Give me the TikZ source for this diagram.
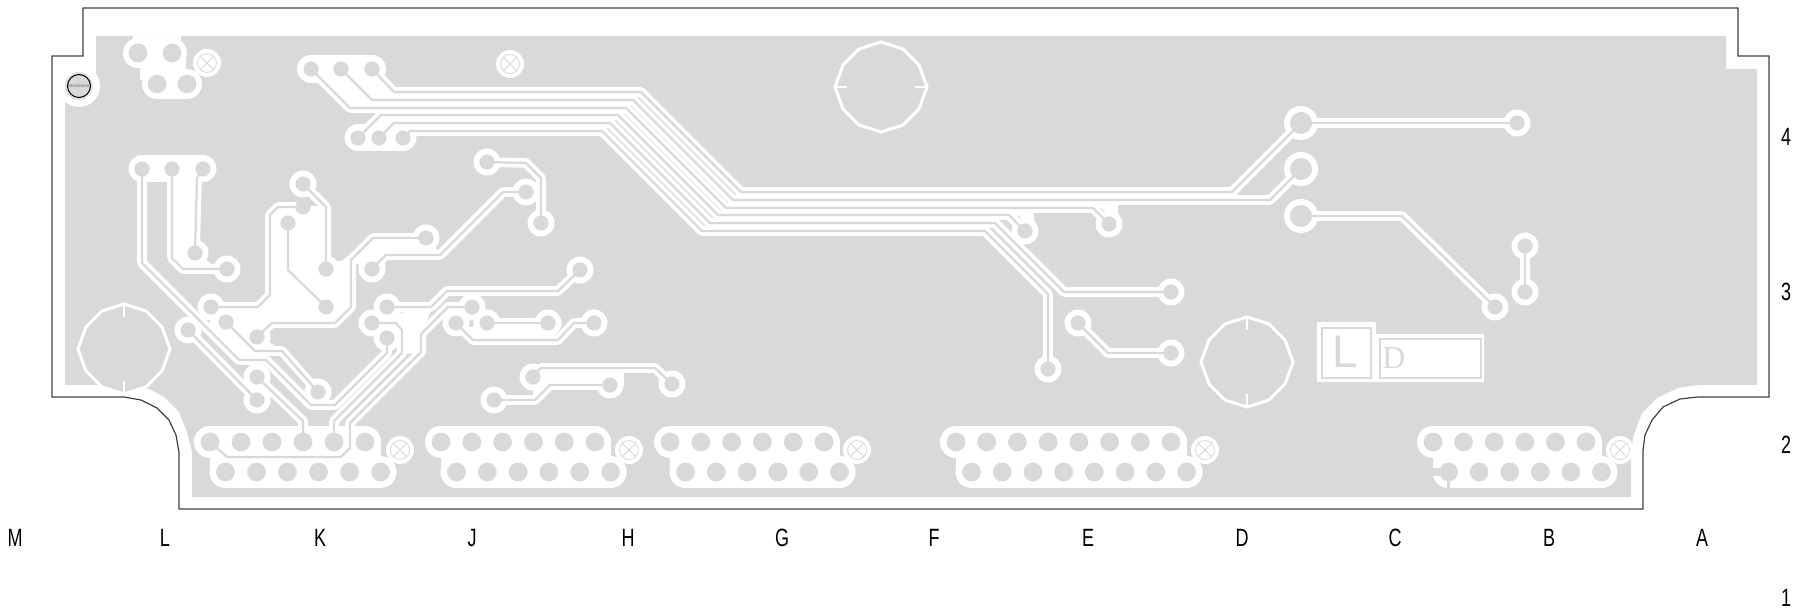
\documentclass[tikz,border=0pt]{standalone}
\usepackage{fontspec}
\setmainfont{Liberation Sans}
\newfontfamily\slabfont{Liberation Serif}
\definecolor{pour}{HTML}{D9D9D9}
\definecolor{edgeline}{HTML}{404040}
\tikzset{
    ring/.style = {circle, fill=white, inner sep=0pt, minimum size=13.5pt},
    bigring/.style = {circle, fill=white, inner sep=0pt, minimum size=17pt},
    hole/.style = {circle, fill=pour, inner sep=0pt, minimum size=7.6pt},
    bighole/.style = {circle, fill=pour, inner sep=0pt, minimum size=11pt},
    pinhole/.style = {circle, fill=pour, inner sep=0pt, minimum size=9.4pt},
    screwpad/.style = {circle, fill=white, inner sep=0pt, minimum size=14pt},
    screwmark/.style = {draw=pour, line width=.4pt},
    patch/.style = {fill=white, draw=white, line width=1pt, line join=round},
    blob/.style = {draw=white, line join=round, line cap=round},
    octo/.style = {draw=white, fill=pour, line width=1.5pt, line join=miter},
    tick/.style = {draw=white, line width=.6pt},
    lab/.style = {font=\fontsize{12.5}{14}\selectfont, xscale=.72, transform shape, inner sep=0pt, text=black},
}
% all copper runs, drawn twice: clearance first, then the run itself
\newcommand{\tracklist}{
    \draw[trk] (ta3) -- (394,92) -- (641,92) -- (741,192) -- (1232,192) -- (fa);
    \draw[trk] (ta2) -- (372,100) -- (633,100) -- (733,200) -- (1270,200) -- (fb);
    \draw[trk] (ta1) -- (350,108) -- (626,108) -- (726,208) -- (1093,208) -- (fh);
    \draw[trk] (tb1) -- (381,115) -- (618,115) -- (718,215) -- (1009,215) -- (fi);
    \draw[trk] (tb2) -- (394,123) -- (610,123) -- (710,223) -- (995,223) -- (1064,292) -- (fj);
    \draw[trk] (tb3) -- (410,131) -- (602,131) -- (702,231) -- (985,231) -- (1048,294) -- (fk);
    \draw[trk] (la1) -- (142,263) -- (239,360) -- (266,360) -- (311,405) -- (335,405) -- (387,353) -- (ec);
    \draw[trk] (la2) -- (172,258) -- (183,269) -- (lc);
    \draw[trk] (la3) -- (197,178) -- (lb);
    \draw[trk] (ca) -- (326,207) -- (cd);
    \draw[trk] (cb) -- (278,207) -- (270,215) -- (270,295) -- (258,307) -- (rf);
    \draw[trk] (cc) -- (288,270) -- (ce);
    \draw[trk] (rg) -- (255,351) -- (282,351) -- (rl);
    \draw[trk] (rh) -- (rk);
    \draw[trk] (rj) -- (303,421) -- (kt4);
    \draw[trk] (ri) -- (272,323) -- (335,323) -- (351,307) -- (351,260) -- (373,238) -- (dd);
    \draw[trk] (de) -- (386,255) -- (440,255) -- (503,192) -- (db);
    \draw[trk] (da) -- (526,163) -- (541,178) -- (dc);
    \draw[trk] (df) -- (558,291) -- (447,291) -- (431,307) -- (ea);
    \draw[trk] (ed) -- (448,307) -- (421,334) -- (421,352) -- (350,423) -- (350,448) -- (341,457) -- (227,457) -- (kt1);
    \draw[trk] (eb) -- (396,323) -- (402,330) -- (402,353) -- (334,421) -- (kt5);
    \draw[trk] (ee) -- (463,330) -- (473,340) -- (558,340) -- (574,323) -- (eh);
    \draw[trk] (ef) -- (eg);
    \draw[trk] (ei) -- (541,368) -- (655,368) -- (el);
    \draw[trk] (ej) -- (535,400) -- (550,385) -- (ek);
    \draw[trk] (fa) -- (fd);
    \draw[trk] (fc) -- (1402,216) -- (fg);
    \draw[trk] (fe) -- (ff);
    \draw[trk] (fl) -- (1108,353) -- (fm);
}
\begin{document}
\begin{tikzpicture}[x=.5pt, y=-.5pt]
    \useasboundingbox (0,0) rectangle (1803,614);

    % pad positions
    \foreach \n/\px/\py in {ta1/311/69, ta2/341/69, ta3/372/69, tb1/358/138, tb2/379/138, tb3/403/138,
        la1/142/169, la2/172/169, la3/203/169, lb/195/253, lc/227/269,
        ca/303/184, cb/303/207, cc/288/223, cd/326/269, ce/326/307,
        rf/211/307, rg/226/322, rh/188/330, ri/257/337, rj/257/377, rk/257/400, rl/318/392,
        da/487/162, db/526/192, dc/541/223, dd/426/238, de/372/269, df/580/270,
        ea/387/307, eb/372/323, ec/387/338, ed/472/307, ee/456/323, ef/487/323, eg/548/323, eh/594/323,
        ei/533/377, ej/494/400, ek/610/385, el/672/384,
        fa/1301/123, fb/1301/169, fc/1301/216, fd/1517/123, fe/1525/246, ff/1525/292, fg/1495/307,
        fh/1109/224, fi/1025/231, fj/1171/292, fk/1048/369, fl/1078/323, fm/1171/353}
        \coordinate (\n) at (\px,\py);
    \foreach \c/\xa/\xb/\pins in {k/210/365/6, j/441/595/6, g/670/824/6, e/956/1171/8, b/1433/1586/6}
        \foreach \i in {1,...,\pins} {
            \coordinate (\c t\i) at ({\xa+(\i-1)*(\xb-\xa)/(\pins-1)},442);
            \coordinate (\c b\i) at ({\xa+15.5+(\i-1)*(\xb-\xa)/(\pins-1)},472);
        }

    % copper pour and board edge
    \fill[pour] (96,36) -- (1726,36) -- (1726,69) -- (1757,69) -- (1757,385) -- (1698,385) -- (1678,388)
        -- (1657,398) -- (1642,413) -- (1633,437) -- (1631,463) -- (1631,497) -- (192,497) -- (192,452)
        -- (187,432) -- (179,412) -- (164,397) -- (149,389) -- (130,385) -- (65,385)
        -- (65,74) -- (96,74) -- cycle;
    \draw[edgeline, line width=.6pt, line join=miter] (83,8) -- (1738,8) -- (1738,56) -- (1769,56) -- (1769,397)
        -- (1698,397) -- (1680,399) -- (1663,407) -- (1652,420) -- (1645,435) -- (1643,450) -- (1643,509)
        -- (179,509) -- (179,452) -- (176,435) -- (169,420) -- (157,408) -- (141,400) -- (124,397)
        -- (52,397) -- (52,56) -- (83,56) -- cycle;

    % clearance round connectors and runs
    \begin{scope}[trk/.style={draw=white, line width=4.8pt, line join=round}]
        \tracklist
    \end{scope}
    \fill[white] (133,36) rectangle (181,60);
    \draw[blob, line width=15pt] (138,53) -- (172,53);
    \draw[blob, line width=15pt] (157,84) -- (187,84);
    \fill[white] (140,60) rectangle (186,80);
    \draw[blob, line width=14pt] (ta1) -- (ta3);
    \draw[blob, line width=13.5pt] (tb1) -- (tb3);
    \draw[blob, line width=13.5pt] (la1) -- (la3);
    \foreach \xa/\xb in {210/365, 441/595, 670/824, 956/1171, 1433/1586} {
        \draw[blob, line width=16pt] (\xa,442) -- (\xb,442);
        \draw[blob, line width=16pt] ({\xa+15.5},472) -- ({\xb+15.5},472);
        \fill[white] (\xa,442) rectangle ({\xb+15.5},472);
    }
    \node[circle, fill=white, inner sep=0pt, minimum size=21pt] (beadclear) at (79,86) {};
    \fill[white] (52.5,60) rectangle (65,104);
    \draw[patch] (ta1) -- (ta2) -- (372,100) -- (350,108) -- cycle;
    \draw[patch] (ta2) -- (ta3) -- (394,92) -- (372,100) -- cycle;
    \draw[patch] (tb1) -- (381,115) -- (394,123) -- (tb2) -- cycle;
    \draw[patch] (tb2) -- (394,123) -- (410,131) -- (tb3) -- cycle;
    \draw[patch] (la2) -- (197,178) -- (197,253) -- (215,269) -- (183,269) -- (172,258) -- cycle;
    \draw[patch] (272,213) -- (278,207) -- (326,207) -- (326,262) -- (342,262) -- (351,255) -- (351,307)
        -- (335,323) -- (272,323) -- (258,307) -- (270,295) -- cycle;
    \draw[patch] (211,320) -- (211,332) -- (241,362) -- (255,351) -- (282,351) -- (258,337) -- (272,323) -- (258,307) -- cycle;
    \draw[patch] (373,238) -- (dd) -- (440,255) -- (386,255) -- (de) -- (351,260) -- cycle;
    \draw[patch] (395,315) -- (431,307) -- (421,334) -- (421,352) -- (402,353) -- (402,330) -- cycle;
    \draw[patch] (ef) -- (eg) -- (558,340) -- (473,340) -- (463,330) -- cycle;
    \draw[patch] (541,368) -- (623,368) -- (623,385) -- (550,385) -- (535,400) -- (533,385) -- cycle;
    \draw[patch] (1097,205) -- (1117,205) -- (1117,216) -- cycle;
    \draw[patch] (1012,212) -- (1033,212) -- (1033,222) -- cycle;
    \foreach \n in {lb, lc, ca, cc, cd, ce, rf, rg, rh, ri, rj, rk, rl, da, db, dc, dd, de, df,
        ea, eb, ec, ed, ee, ef, eg, eh, ei, ej, ek, el, fd, fe, ff, fg, fh, fi, fj, fk, fl, fm}
        \node[ring] (w\n) at (\n) {};
    \foreach \n in {fa, fb, fc}
        \node[bigring] (w\n) at (\n) {};

    % mounting screws
    \foreach \n/\px/\py in {sa/207/63, sb/510/64, sc/400/450, sd/629/450, se/857/450, sf/1205/450, sg/1620/450} {
        \node[screwpad] (\n) at (\px,\py) {};
        \draw[screwmark] (\n) ++(-7,-7) -- ++(14,14) (\n) ++(7,-7) -- ++(-14,14);
        \draw[screwmark] (\n) circle[radius=9.5];
    }

    % the runs and the drilled holes
    \begin{scope}[trk/.style={draw=pour, line width=1.15pt, line join=miter}]
        \tracklist
    \end{scope}
    \foreach \n in {lb, lc, ca, cb, cc, cd, ce, rf, rg, rh, ri, rj, rk, rl, da, db, dc, dd, de, df,
        ea, eb, ec, ed, ee, ef, eg, eh, ei, ej, ek, el, fd, fe, ff, fg, fh, fi, fj, fk, fl, fm,
        ta1, ta2, ta3, tb1, tb2, tb3, la1, la2, la3}
        \node[hole] (h\n) at (\n) {};
    \foreach \n in {fa, fb, fc}
        \node[bighole] (h\n) at (\n) {};
    \foreach \n/\px/\py in {tla/138/53, tlb/172/53, tlc/157/84, tld/187/84}
        \node[pinhole] (\n) at (\px,\py) {};
    \foreach \c/\pins in {k/6, j/6, g/6, e/8, b/6}
        \foreach \i in {1,...,\pins} {
            \node[pinhole] (h\c t\i) at (\c t\i) {};
            \node[pinhole] (h\c b\i) at (\c b\i) {};
        }
    \draw[pour, line width=1.6pt] (bb1) -- ++(0,17);
    \draw[pour, line width=4pt] (bb1) -- ++(-17,0);

    % round cut-outs
    \foreach \n/\px/\py in {cuta/881/87, cutb/124/349, cutc/1247/362} {
        \coordinate (\n) at (\px,\py);
        \begin{scope}[shift={(\n)}]
            \draw[octo] (0,-45) -- (22,-38) -- (38,-22) -- (46,0) -- (38,22) -- (22,38) -- (0,45)
                -- (-22,38) -- (-38,22) -- (-46,0) -- (-38,-22) -- (-22,-38) -- cycle;
        \end{scope}
    }
    \draw[tick] (cuta) ++(-46,0) -- ++(12,0) (cuta) ++(46,0) -- ++(-12,0);
    \foreach \n in {cutb, cutc}
        \draw[tick] (\n) ++(0,-45) -- ++(0,13) (\n) ++(0,45) -- ++(0,-13);

    % fiducial
    \node[circle, fill=pour!80, inner sep=0pt, minimum size=14pt] (beadhalo) at (79,86) {};
    \node[circle, draw=black, fill=pour, line width=.5pt, inner sep=0pt, minimum size=11.5pt,
        text=black!60, font=\fontsize{1.9}{2}\selectfont] (beadmark) at (79,86) {BEADMARK};

    % the two boxes
    \fill[white] (1317,322) rectangle (1376,382);
    \fill[white] (1376,334) rectangle (1484,382);
    \draw[pour, line width=1pt] (1322,328) rectangle (1371,378);
    \draw[pour, line width=1pt] (1380,339) rectangle (1481,378);
    \node[inner sep=0pt, text=pour, font=\fontsize{23}{24}\selectfont] (boxl) at (1345,352) {L};
    \node[inner sep=0pt, text=pour, font=\slabfont\fontsize{16}{17}\selectfont] (boxd) at (1394,358) {D};

    % grid letters and numbers
    \foreach \t/\px in {M/15, L/165, K/320, J/472, H/628, G/782, F/934, E/1088, D/1242, C/1395, B/1549, A/1702}
        \node[lab] (col\t) at (\px,538) {\t};
    \foreach \t/\py in {4/137, 3/292, 2/445, 1/598}
        \node[lab] (row\t) at (1786,\py) {\t};
\end{tikzpicture}
\end{document}
